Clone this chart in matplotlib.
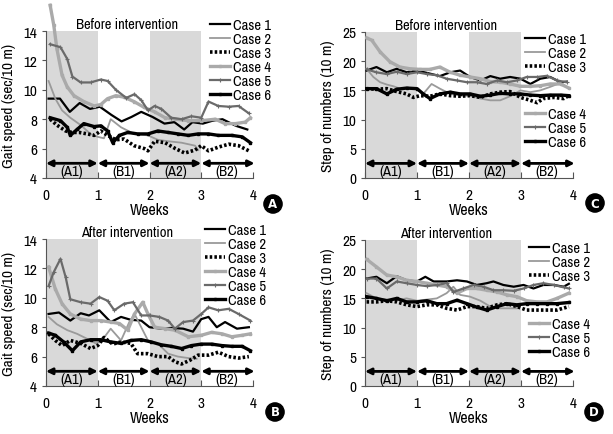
import matplotlib
matplotlib.use("Agg")
import matplotlib.pyplot as plt

plt.rcParams['font.family'] = ['Archivo Narrow', 'DejaVu Sans']

CASE_LABELS = ["Case 1", "Case 2", "Case 3", "Case 4", "Case 5", "Case 6"]
PHASE_LABELS = ["(A1)", "(B1)", "(A2)", "(B2)"]
PHASE_EDGES = [0, 1, 2, 3, 4]
WEEK_TICKS = [0, 1, 2, 3, 4]

# ---- Panel A: gait speed, before intervention ----
A1x = [0.05,0.27,0.46,0.65,0.85,1.04,1.26,1.46,1.65,1.84,2.06,2.29,2.48,2.67,2.83,3.03,3.22,3.41,3.67,3.89]
A1y = [9.4,9.4,8.5,9.1,8.7,8.85,8.3,7.85,8.15,8.5,8.15,7.7,7.8,7.3,7.8,7.7,7.9,8.0,7.55,7.3]
A2x = [0.05,0.18,0.31,0.47,0.67,0.86,1.0,1.12,1.25,1.45,1.7,1.97,2.16,2.36,2.62,2.88,2.94]
A2y = [10.6,9.4,8.6,8.1,7.6,7.0,6.8,6.7,8.0,7.45,7.0,6.9,6.6,6.5,6.4,6.2,5.9]
A3x = [0.08,0.21,0.38,0.5,0.64,0.8,0.93,1.06,1.19,1.35,1.51,1.7,1.9,1.97,2.1,2.3,2.5,2.68,2.88,3.0,3.14,3.33,3.53,3.72,3.92]
A3y = [8.0,7.6,7.2,7.1,7.1,7.0,6.9,7.2,6.9,6.6,6.65,6.2,6.0,5.85,6.5,6.4,6.0,5.7,5.9,6.2,5.85,6.1,6.3,6.2,5.85]
A4x = [0.08,0.15,0.21,0.31,0.41,0.54,0.73,0.93,1.06,1.19,1.35,1.51,1.7,1.9,2.1,2.3,2.5,2.75,3.0,3.27,3.46,3.66,3.85,3.95]
A4y = [15.75,14.4,12.8,11.0,10.2,9.6,9.2,8.9,9.0,9.4,9.6,9.5,9.2,8.8,8.5,8.1,8.0,7.9,7.9,8.0,7.7,7.7,7.8,8.1]
A5x = [0.08,0.28,0.41,0.51,0.67,0.86,1.06,1.19,1.35,1.55,1.71,1.84,1.97,2.1,2.23,2.42,2.62,2.81,3.0,3.14,3.33,3.53,3.72,3.92]
A5y = [13.1,12.9,12.1,10.9,10.5,10.5,10.7,10.6,10.0,9.45,9.7,9.3,8.6,8.9,8.7,8.1,8.0,8.2,8.1,9.2,8.9,8.85,8.9,8.4]
A6x = [0.08,0.28,0.41,0.47,0.6,0.73,0.93,1.06,1.19,1.29,1.42,1.58,1.77,1.97,2.16,2.36,2.55,2.75,2.94,3.14,3.33,3.59,3.79,3.95]
A6y = [8.1,7.9,7.45,6.9,7.3,7.7,7.5,7.55,7.2,6.4,6.9,7.1,7.0,7.0,7.2,7.1,7.0,6.9,7.0,7.0,6.9,6.9,6.8,6.4]

# ---- Panel B: gait speed, after intervention ----
B1x = [0.05,0.25,0.47,0.67,0.83,1.03,1.25,1.45,1.64,1.84,2.0,2.23,2.42,2.65,2.84,3.0,3.14,3.3,3.46,3.69,3.92]
B1y = [8.9,9.0,8.45,8.95,8.8,9.15,8.35,8.7,8.5,8.45,8.0,7.9,7.95,7.9,7.7,8.55,8.7,8.0,8.35,7.9,8.0]
B2x = [0.05,0.21,0.41,0.6,0.8,0.96,1.06,1.25,1.45,1.61,1.71,1.84,1.97,2.16,2.36,2.55,2.75,2.91]
B2y = [8.7,8.2,7.8,7.55,7.2,6.9,7.0,7.9,7.1,8.35,8.9,8.0,7.1,6.9,6.2,6.0,5.9,5.85]
B3x = [0.05,0.18,0.31,0.47,0.67,0.86,1.0,1.12,1.29,1.45,1.64,1.77,1.97,2.16,2.36,2.49,2.62,2.78,2.94,3.14,3.33,3.53,3.72,3.92]
B3y = [7.55,7.1,6.75,7.1,6.9,6.55,6.75,7.3,6.85,7.0,6.9,6.2,6.2,6.0,6.0,5.65,5.5,5.75,6.1,6.1,6.3,6.0,5.9,6.0]
B4x = [0.05,0.18,0.31,0.47,0.67,0.86,1.06,1.25,1.42,1.58,1.71,1.87,1.97,2.1,2.3,2.49,2.75,3.0,3.2,3.4,3.59,3.79,3.95]
B4y = [12.1,10.6,9.6,8.9,8.55,8.45,8.45,8.35,8.25,7.8,8.9,9.7,8.9,8.0,7.9,7.8,7.35,7.45,7.65,7.55,7.35,7.45,7.55]
B5x = [0.05,0.15,0.28,0.38,0.47,0.67,0.86,1.03,1.19,1.32,1.51,1.68,1.84,2.0,2.19,2.36,2.49,2.65,2.84,3.0,3.14,3.33,3.53,3.72,3.95]
B5y = [10.8,11.75,12.65,11.4,9.9,9.7,9.6,10.05,9.8,9.15,9.6,9.7,8.8,8.8,8.7,8.45,7.9,8.35,8.45,8.9,9.35,9.15,9.25,8.9,8.45]
B6x = [0.05,0.18,0.34,0.51,0.67,0.86,1.06,1.25,1.45,1.64,1.84,2.03,2.23,2.42,2.62,2.81,3.0,3.2,3.4,3.59,3.79,3.95]
B6y = [7.6,7.45,7.0,6.4,7.0,7.15,7.15,7.0,6.9,7.1,7.15,7.0,6.8,6.7,6.55,6.75,6.85,6.85,6.75,6.7,6.7,6.4]

# ---- Panel C: step numbers, before intervention ----
C1x = [0.03,0.22,0.42,0.61,0.8,1.0,1.19,1.44,1.64,1.83,2.02,2.22,2.41,2.6,2.79,2.99,3.18,3.37,3.56,3.76,3.88]
C1y = [18.4,19.0,18.1,18.7,18.1,18.4,18.0,17.45,18.1,18.4,17.3,16.7,17.45,17.0,17.3,17.0,16.1,17.0,17.3,16.4,16.5]
C2x = [0.03,0.16,0.29,0.42,0.55,0.67,0.8,1.0,1.12,1.28,1.44,1.64,1.83,2.02,2.22,2.41,2.6,2.79,2.99,3.18,3.37,3.56,3.76,3.88]
C2y = [18.7,17.3,16.4,16.0,15.7,15.3,15.3,15.2,14.4,16.1,15.3,14.4,14.1,14.1,13.6,13.3,13.3,14.0,15.0,14.7,15.0,15.6,16.3,15.6]
C3x = [0.03,0.22,0.42,0.61,0.8,0.93,1.06,1.25,1.44,1.64,1.83,2.02,2.22,2.41,2.6,2.79,2.99,3.18,3.31,3.43,3.63,3.82,3.92]
C3y = [15.3,15.2,15.3,14.8,14.4,13.8,14.1,14.0,14.4,14.1,14.0,14.1,13.8,14.4,14.7,14.8,13.8,13.3,12.9,13.6,13.8,13.6,14.1]
C4x = [0.03,0.13,0.29,0.48,0.67,0.87,1.06,1.25,1.44,1.64,1.83,2.02,2.22,2.41,2.6,2.79,2.99,3.18,3.37,3.56,3.76,3.92]
C4y = [24.0,23.6,21.6,19.9,19.0,18.7,18.6,18.6,19.0,18.1,17.6,17.3,17.0,16.5,16.4,16.1,15.7,15.7,15.8,16.1,16.1,15.4]
C5x = [0.03,0.22,0.42,0.61,0.8,1.0,1.19,1.38,1.57,1.77,1.96,2.15,2.34,2.54,2.73,2.92,3.11,3.31,3.5,3.69,3.88]
C5y = [18.6,18.1,17.8,18.2,17.8,18.1,17.8,17.6,17.0,16.7,16.4,16.4,16.1,16.7,16.4,16.7,17.3,17.3,17.5,16.7,16.4]
C6x = [0.03,0.22,0.42,0.61,0.8,1.0,1.12,1.25,1.44,1.64,1.83,2.02,2.22,2.41,2.6,2.79,2.99,3.18,3.37,3.56,3.76,3.92]
C6y = [15.3,15.3,14.4,15.2,15.4,15.3,14.4,13.6,14.4,14.7,14.4,14.4,14.0,14.2,14.5,14.4,14.4,14.2,14.1,14.2,14.2,14.1]

# ---- Panel D: step numbers, after intervention ----
D1x = [0.03,0.22,0.42,0.61,0.8,1.0,1.16,1.32,1.57,1.77,1.96,2.15,2.34,2.47,2.66,2.86,3.05,3.24,3.43,3.63,3.82,3.92]
D1y = [18.4,18.7,17.6,18.8,18.1,17.9,18.7,17.9,17.9,18.1,17.9,17.3,17.6,17.9,17.3,17.0,17.3,16.7,17.3,17.3,17.0,17.5]
D2x = [0.03,0.22,0.42,0.61,0.8,1.0,1.19,1.38,1.57,1.7,1.83,2.02,2.22,2.41,2.6,2.79,2.92]
D2y = [15.9,15.0,14.8,14.7,15.0,14.6,14.8,15.0,15.9,17.0,15.6,15.3,14.6,13.6,13.3,13.3,13.3]
D3x = [0.03,0.22,0.42,0.61,0.8,1.0,1.19,1.38,1.57,1.77,1.96,2.15,2.34,2.54,2.73,2.92,3.11,3.31,3.5,3.69,3.92]
D3y = [14.4,14.4,14.6,14.4,13.9,13.6,13.9,13.9,13.3,13.0,13.6,13.6,13.3,13.9,14.1,13.6,13.0,13.0,13.0,13.0,13.6]
D4x = [0.03,0.22,0.42,0.61,0.8,1.0,1.19,1.38,1.57,1.77,1.96,2.15,2.34,2.54,2.73,2.92,3.11,3.31,3.5,3.69,3.92]
D4y = [21.7,20.4,19.0,18.7,18.1,17.9,17.6,17.3,17.0,15.9,16.7,16.7,16.4,16.1,15.6,15.3,14.6,14.4,14.4,15.0,15.9]
D5x = [0.03,0.22,0.42,0.61,0.8,1.0,1.19,1.38,1.57,1.7,1.89,2.09,2.28,2.47,2.66,2.86,3.05,3.24,3.43,3.63,3.82,3.92]
D5y = [18.4,18.4,16.7,17.9,17.6,17.3,17.1,17.3,17.6,16.1,16.7,17.3,17.0,16.4,16.4,16.3,16.7,17.3,17.6,17.3,16.9,16.7]
D6x = [0.03,0.22,0.42,0.61,0.8,1.0,1.19,1.38,1.57,1.77,1.96,2.15,2.34,2.54,2.73,2.92,3.11,3.31,3.5,3.69,3.92]
D6y = [15.3,15.0,14.6,15.0,14.4,14.4,14.6,14.1,14.1,14.7,14.1,13.5,13.0,13.6,14.1,13.9,14.1,14.1,14.1,14.1,14.3]

STYLES = [
    dict(color='black', lw=1.6, ls='-'),
    dict(color='#9a9a9a', lw=1.3, ls='-'),
    dict(color='black', lw=2.6, ls=(0, (0.7, 0.6))),
    dict(color='#aaaaaa', lw=2.4, ls='-', marker='s', ms=1.6),
    dict(color='#6a6a6a', lw=1.6, ls='-', marker='+', ms=2.4, mew=0.8),
    dict(color='black', lw=2.4, ls='-', marker='s', ms=2.0),
]

W, H = 613.0, 435.0
fig = plt.figure(figsize=(6.13, 4.35), dpi=100)

def px_axes(left, top, right, bottom):
    return fig.add_axes([left / W, 1 - bottom / H, (right - left) / W, (bottom - top) / H])

def setup(ax, series, ylim, yticks, ylabel, title, arrow_y, label_y, mark_clip):
    ax.set_xlim(0, 4)
    ax.set_ylim(*ylim)
    for a, b in [(0, 1), (2, 3)]:
        ax.axvspan(a, b, color='#d9d9d9', lw=0, zorder=0)
    handles = []
    for (xs, ys), st, lab in zip(series, STYLES, CASE_LABELS):
        ln, = ax.plot(xs, ys, label=lab, clip_on=mark_clip, zorder=3, **st)
        handles.append(ln)
    for i in range(4):
        ax.annotate('', xy=(PHASE_EDGES[i + 1] + (0.03 if i == 3 else 0), arrow_y),
                    xytext=(PHASE_EDGES[i], arrow_y),
                    arrowprops=dict(arrowstyle='<|-|>', color='black', lw=2.0,
                                    mutation_scale=9, shrinkA=0, shrinkB=0),
                    zorder=4, annotation_clip=False)
        ax.text((PHASE_EDGES[i] + PHASE_EDGES[i + 1]) / 2, label_y, PHASE_LABELS[i],
                ha='center', va='center', fontsize=10.5)
    ax.spines['top'].set_visible(False)
    ax.spines['right'].set_visible(False)
    ax.spines['left'].set_color('#555555')
    ax.spines['bottom'].set_color('#555555')
    ax.set_xticks(WEEK_TICKS)
    ax.set_yticks(yticks)
    ax.tick_params(axis='x', direction='in', length=4, labelsize=11, pad=7, color='#555555')
    ax.tick_params(axis='y', direction='out', length=3, labelsize=11, color='#555555')
    ax.set_ylabel(ylabel, fontsize=11, labelpad=5)
    ax.set_xlabel('Weeks', fontsize=11.5, labelpad=0)
    ax.text(1.56, ylim[1] + (ylim[1] - ylim[0]) * 0.045, title, ha='center', va='center', fontsize=10.5)
    return handles

def badge(x, y, letter):
    fig.text(x / W, 1 - y / H, letter, ha='center', va='center', color='white',
             fontsize=8.5, fontweight='bold', family='DejaVu Sans',
             bbox=dict(boxstyle='circle,pad=0.22', fc='black', ec='black'))

def legend(handles, x, y):
    fig.legend(handles=handles, loc='upper left', bbox_to_anchor=(x / W, 1 - y / H),
               frameon=False, fontsize=10.5, handlelength=1.35, handletextpad=0.2,
               labelspacing=0.0, borderpad=0, borderaxespad=0)

axA = px_axes(46, 32, 253, 179)
hA = setup(axA, [(A1x, A1y), (A2x, A2y), (A3x, A3y), (A4x, A4y), (A5x, A5y), (A6x, A6y)],
           (4, 14), [4, 6, 8, 10, 12, 14], 'Gait speed (sec/10 m)', 'Before intervention', 5.0, 4.5, False)

axB = px_axes(46, 240, 253, 387)
hB = setup(axB, [(B1x, B1y), (B2x, B2y), (B3x, B3y), (B4x, B4y), (B5x, B5y), (B6x, B6y)],
           (4, 14), [4, 6, 8, 10, 12, 14], 'Gait speed (sec/10 m)', 'After intervention', 5.0, 4.5, True)

axC = px_axes(365, 33, 573, 179)
hC = setup(axC, [(C1x, C1y), (C2x, C2y), (C3x, C3y), (C4x, C4y), (C5x, C5y), (C6x, C6y)],
           (0, 25), [0, 5, 10, 15, 20, 25], 'Step of numbers (10 m)', 'Before intervention', 2.5, 1.2, True)

axD = px_axes(365, 241, 573, 387)
hD = setup(axD, [(D1x, D1y), (D2x, D2y), (D3x, D3y), (D4x, D4y), (D5x, D5y), (D6x, D6y)],
           (0, 25), [0, 5, 10, 15, 20, 25], 'Step of numbers (10 m)', 'After intervention', 2.5, 1.2, True)

legend(hA, 210, 19)
legend(hB, 205, 224)
legend(hC[:3], 525, 33)
legend(hC[3:], 525, 108)
legend(hD[:3], 529, 242)
legend(hD[3:], 529, 318)

badge(273, 205, 'A')
badge(275, 413, 'B')
badge(595, 204, 'C')
badge(594, 413, 'D')

fig.savefig('out.png', dpi=100)
